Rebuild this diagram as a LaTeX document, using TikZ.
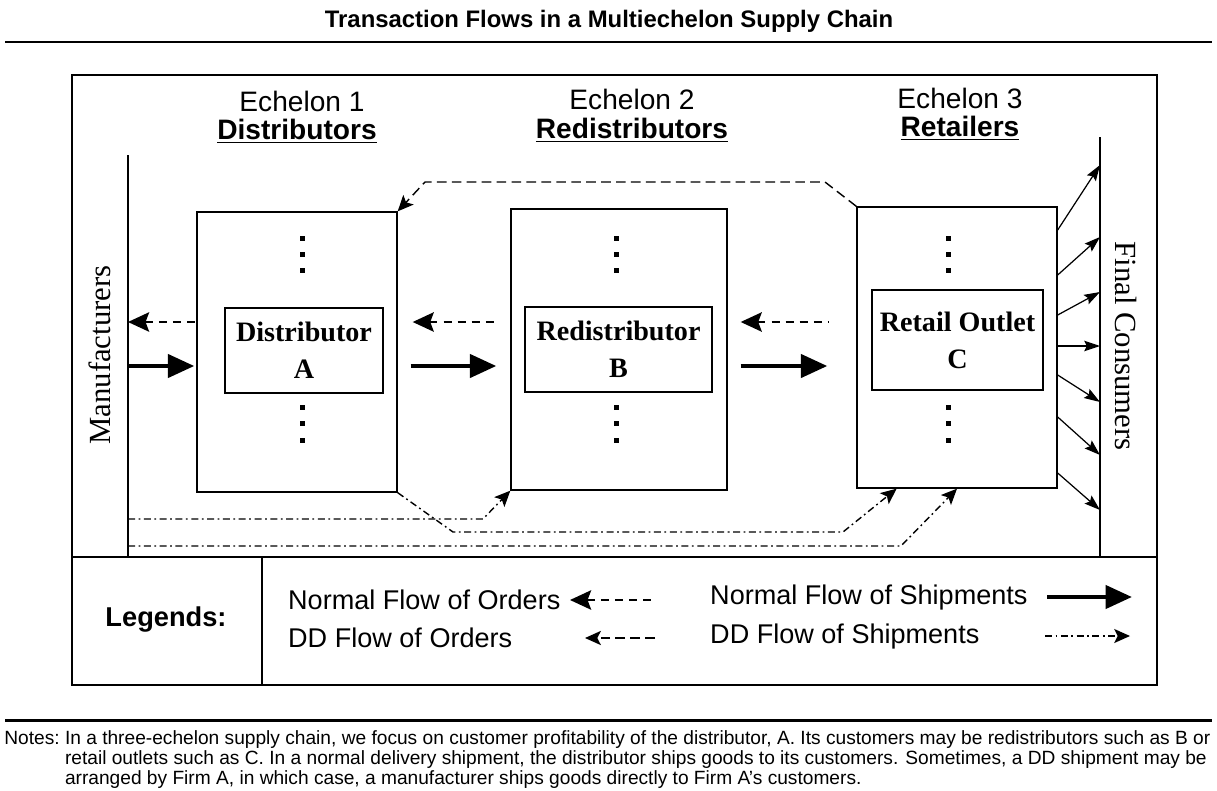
\documentclass[tikz,border=0pt]{standalone}
\usepackage{fontspec}
\setmainfont{Liberation Serif}
\setsansfont{Liberation Sans}
\usetikzlibrary{arrows.meta,calc}

\begin{document}
\begin{tikzpicture}[x=0.02cm, y=-0.02cm,
        frame/.style={line width=0.8pt},
        rule/.style={line width=1.7pt},
        outerbox/.style={draw,line width=0.8pt,inner sep=0pt},
        innerbox/.style={draw,line width=0.8pt,inner sep=0pt,align=center,font=\fontsize{16}{21}\selectfont\bfseries},
        echlab/.style={font=\sffamily\fontsize{16}{19}\selectfont},
        grplab/.style={font=\sffamily\bfseries\fontsize{16}{19}\selectfont},
        sidelab/.style={font=\fontsize{17.5}{20}\selectfont},
        legtext/.style={anchor=west,font=\sffamily\fontsize{15.4}{18}\selectfont},
        shipflow/.style={line width=2.6pt,-{Triangle[length=15pt,width=13pt]}},
        orderflow/.style={line width=1.4pt,dash pattern=on 4.5pt off 3.5pt,{Stealth[length=12pt,width=11pt,inset=2pt]}-},
        ddorder/.style={line width=0.8pt,dash pattern=on 5.5pt off 3pt,-{Stealth[length=9pt,width=8pt,inset=2pt]}},
        ddship/.style={line width=0.8pt,dash pattern=on 4pt off 2pt on 1pt off 2pt,-{Stealth[length=9pt,width=8pt,inset=2pt]}},
        conarrow/.style={line width=0.7pt,-{Stealth[length=9pt,width=6pt,inset=1.5pt]}}
    ]
    \useasboundingbox (0,0) rectangle (1217,791);

    % --- title and rules ---
    \node[font=\sffamily\bfseries\fontsize{13.6}{16}\selectfont] (title) at (609,21) {Transaction Flows in a Multiechelon Supply Chain};
    \draw[rule] (5,42) -- (1212,42);
    \draw[rule] (5,720) -- (1212,720);

    % --- frame ---
    \draw[frame] (72,75) rectangle (1157,685);
    \draw[frame] (72,557) -- (1157,557);
    \draw[frame] (262,557) -- (262,685);

    % --- echelon headings ---
    \node[echlab] (ech1) at (302,101) {Echelon 1};
    \node[grplab] (grp1) at (297,131) {\underline{Distributors}};
    \node[echlab] (ech2) at (632,99) {Echelon 2};
    \node[grplab] (grp2) at (632,130) {\underline{Redistributors}};
    \node[echlab] (ech3) at (960,98) {Echelon 3};
    \node[grplab] (grp3) at (960,128) {\underline{Retailers}};

    % --- manufacturers and final consumers ---
    \coordinate (mtop) at (128,155);
    \coordinate (mbot) at (128,557);
    \coordinate (ctop) at (1100,137);
    \coordinate (cbot) at (1100,557);
    \draw[frame] (mtop) -- (mbot);
    \draw[frame] (ctop) -- (cbot);
    \node[sidelab,rotate=90] (manuf) at (100,355) {Manufacturers};
    \node[sidelab,rotate=-90] (consum) at (1126,346) {Final Consumers};

    % --- echelon boxes ---
    \node[outerbox,minimum width=4cm,minimum height=5.6cm] (boxA) at (297,352) {};
    \node[outerbox,minimum width=4.32cm,minimum height=5.62cm] (boxB) at (619,349.5) {};
    \node[outerbox,minimum width=4cm,minimum height=5.62cm] (boxC) at (957,347.5) {};
    \node[innerbox,minimum width=3.16cm,minimum height=1.7cm] (firmA) at (304,350.5) {Distributor\\ A};
    \node[innerbox,minimum width=3.74cm,minimum height=1.7cm] (firmB) at (618.5,349.5) {Redistributor\\ B};
    \node[innerbox,minimum width=3.42cm,minimum height=2cm] (firmC) at (957.5,340) {Retail Outlet\\ C};

    % dots above and below each firm
    \foreach \cx in {302,616,948} {
        \foreach \cy in {238,254,270,407,423,440} {
            \fill (\cx-2.5,\cy-2.5) rectangle (\cx+2.5,\cy+2.5);
        }
    }

    % --- normal flows ---
    \coordinate (ordrow) at (0,322);
    \coordinate (shiprow) at (0,366);
    \draw[orderflow] (mtop |- ordrow) -- (boxA.west |- ordrow);
    \draw[orderflow,shorten <=0.3cm,shorten >=0.28cm] (boxA.east |- ordrow) -- (boxB.west |- ordrow);
    \draw[orderflow,shorten <=0.26cm,shorten >=0.54cm] (boxB.east |- ordrow) -- (boxC.west |- ordrow);
    \draw[shipflow,shorten >=0.04cm] (mtop |- shiprow) -- (boxA.west |- shiprow);
    \draw[shipflow,shorten <=0.26cm,shorten >=0.28cm] (boxA.east |- shiprow) -- (boxB.west |- shiprow);
    \draw[shipflow,shorten <=0.26cm,shorten >=0.58cm] (boxB.east |- shiprow) -- (boxC.west |- shiprow);

    % --- DD flows ---
    \draw[ddorder] (boxC.north west) -- (825,182) -- (425,182) -- (boxA.north east);
    \draw[ddship] (mtop |- 0,519) -- (483,519) -- (boxB.south west);
    \draw[ddship] (boxA.south east) -- (453,532) -- (843,532) -- ($(boxC.south west)!0.2!(boxC.south east)$);
    \draw[ddship] (mtop |- 0,546) -- (901,546) -- (boxC.south);

    % --- retail outlet to final consumers ---
    \foreach \a/\b in {230/165,275/237,315/292,346/346,375/402,417/455,473/510} {
        \draw[conarrow] (boxC.east |- 0,\a) -- (ctop |- 0,\b);
    }

    % --- legend ---
    \node[font=\sffamily\bfseries\fontsize{15.5}{18}\selectfont] (legend) at (166,620) {Legends:};
    \node[legtext] (lgord) at (282,600) {Normal Flow of Orders};
    \node[legtext] (lgddord) at (282,638) {DD Flow of Orders};
    \node[legtext] (lgship) at (704,597) {Normal Flow of Shipments};
    \node[legtext] (lgddship) at (704,636) {DD Flow of Shipments};
    \coordinate (lo1) at (655,600); \coordinate (lo2) at (570,600);
    \coordinate (ld1) at (655,638); \coordinate (ld2) at (585,638);
    \coordinate (ls1) at (1047,597); \coordinate (ls2) at (1132,597);
    \coordinate (lt1) at (1045,636); \coordinate (lt2) at (1130,636);
    \draw[orderflow] (lo2) -- (lo1);
    \draw[ddorder,line width=1.2pt] (ld1) -- (ld2);
    \draw[shipflow] (ls1) -- (ls2);
    \draw[ddship] (lt1) -- (lt2);

    % --- notes ---
    \node[anchor=north west,inner sep=0pt,font=\sffamily\fontsize{10.9}{11.4}\selectfont] (notes) at (4,730) {%
        \begin{tabular}{@{}l@{\ }l@{}}
        Notes: & In a three-echelon supply chain, we focus on customer profitability of the distributor, A. Its customers may be redistributors such as B or\\
        & retail outlets such as C. In a normal delivery shipment, the distributor ships goods to its customers. Sometimes, a DD shipment may be\\
        & arranged by Firm A, in which case, a manufacturer ships goods directly to Firm A's customers.
        \end{tabular}};
\end{tikzpicture}
\end{document}
